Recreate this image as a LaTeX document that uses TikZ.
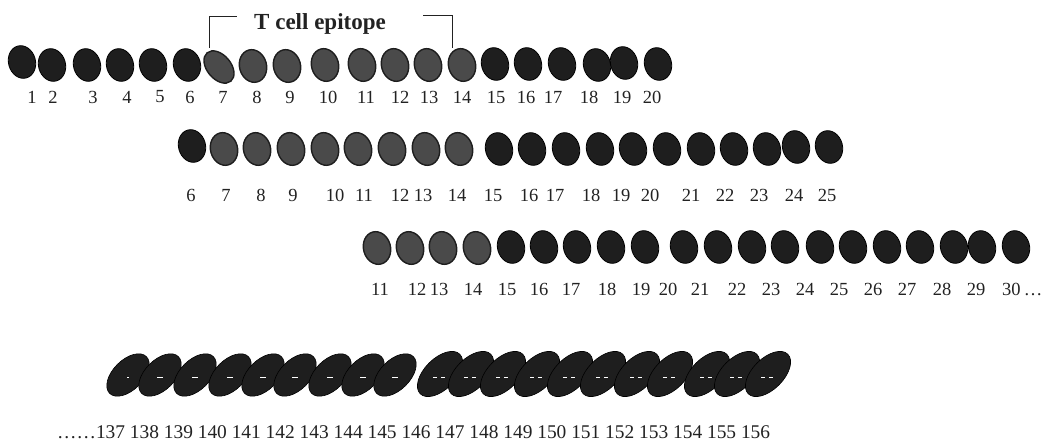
\documentclass[tikz,border=0pt]{standalone}
\usepackage{fontspec}
\setmainfont{Liberation Serif}
\usetikzlibrary{shapes.geometric}
\definecolor{beaddark}{HTML}{1E1E1E}
\definecolor{beadgray}{HTML}{4A4A4A}
\definecolor{inkgray}{HTML}{222222}
\tikzset{
  bead/.style={ellipse, inner sep=0pt, minimum width=27pt, minimum height=33pt,
    rotate=15, fill=beaddark, draw=black, line width=0.8pt},
  epibead/.style={bead, fill=beadgray, draw=beaddark, line width=1.4pt},
  num/.style={font=\fontsize{18.5}{20}\selectfont, inner sep=0pt, text=inkgray},
  coil/.style={ellipse, inner sep=0pt, minimum width=52pt, minimum height=30pt,
    rotate=45, fill=beaddark, draw=black, line width=0.6pt},
  bigcoil/.style={coil, minimum width=56pt, minimum height=31pt},
  glint/.style={white, line width=0.9pt},
  bracket/.style={line width=1pt, inkgray},
  title/.style={font=\fontsize{23}{25}\selectfont\bfseries, inner sep=0pt, text=inkgray},
}
\begin{document}
\begin{tikzpicture}[x=1pt, y=-1pt]
\useasboundingbox (0,0) rectangle (1050,443);

% ---- row 1: residues 1-20 ----
\foreach \n/\x/\y in {1/22/62, 2/52/65, 3/87/65, 4/120/65, 5/153/65, 6/187/65,
    15/495/64, 16/528/64, 17/562/64, 18/597/65, 19/624/63, 20/658/64}
  \node[bead] (a\n) at (\x,\y) {};
\node[epibead, rotate=25, minimum width=24pt, minimum height=37pt] (a7) at (219,67) {};
\foreach \n/\x/\y in {8/253/66, 9/287/66, 10/325/65, 11/362/65, 12/395/65, 13/428/65, 14/462/65}
  \node[epibead] (a\n) at (\x,\y) {};
\foreach \n/\x in {1/32, 2/53, 3/93, 4/127, 5/160, 6/190, 7/223, 8/257, 9/290, 10/328,
    11/366, 12/400, 13/429, 14/462, 15/496, 16/526, 17/553, 18/589, 19/622, 20/652}
  \node[num] (la\n) at (\x,97) {\n};

% epitope bracket and title
\node[title, anchor=base] (epi) at (320,30) {T cell epitope};
\coordinate (bl1) at (209,48);
\coordinate (bl2) at (209,17);
\coordinate (bl3) at (237,17);
\coordinate (br1) at (423,16);
\coordinate (br2) at (452,16);
\coordinate (br3) at (452,48);
\draw[bracket] (bl1) -- (bl2) -- (bl3);
\draw[bracket] (br1) -- (br2) -- (br3);

% ---- row 2: residues 6-25 ----
\node[bead] (b6) at (192,146) {};
\foreach \n/\x in {7/224, 8/257, 9/291, 10/325, 11/358, 12/392, 13/426, 14/459}
  \node[epibead] (b\n) at (\x,149) {};
\foreach \n/\x/\y in {15/499/149, 16/532/149, 17/566/149, 18/600/149, 19/633/149,
    20/667/149, 21/701/149, 22/734/149, 23/767/149, 24/796/147, 25/829/147}
  \node[bead] (b\n) at (\x,\y) {};
\foreach \n/\x in {6/191, 7/226, 8/261, 9/293, 10/335, 11/364, 12/400, 13/423, 14/457,
    15/493, 16/529, 17/555, 18/591, 19/621, 20/650, 21/691, 22/725, 23/759, 24/794, 25/827}
  \node[num] (lb\n) at (\x,195) {\n};

% ---- row 3: residues 11-30 ----
\foreach \n/\x in {11/377, 12/410, 13/443, 14/477}
  \node[epibead] (c\n) at (\x,248) {};
\foreach \n/\x in {15/511, 16/544, 17/577, 18/611, 19/645, 20/684, 21/718, 22/752,
    23/785, 24/820, 25/853, 26/887, 27/920, 28/954, 29/982, 30/1016}
  \node[bead] (c\n) at (\x,247) {};
\foreach \n/\x in {11/380, 12/417, 13/439, 14/473, 15/507, 16/539, 17/571, 18/607,
    19/641, 20/668, 21/700, 22/737, 23/771, 24/805, 25/839, 26/873, 27/907, 28/942, 29/976}
  \node[num] (lc\n) at (\x,289) {\n};
\node[num, anchor=west] (lc30) at (1002,289) {30\,…};

% ---- row 4: residues 137-156, packed as a helix ----
\foreach \n/\x in {137/128, 138/160, 139/195, 140/230, 141/263, 142/295, 143/330, 144/363, 145/395}
  \node[coil] (d\n) at (\x,375) {};
\foreach \n/\x in {146/440, 147/471, 148/503, 149/537, 150/570, 151/603, 152/637,
    153/670, 154/707, 155/737, 156/768}
  \node[bigcoil] (d\n) at (\x,374) {};
\draw[glint] ([xshift=-1pt,yshift=-2pt]d137.center) -- ([xshift=1pt,yshift=-2pt]d137.center);
\foreach \n in {138,...,145}
  \draw[glint] ([xshift=-3pt,yshift=-2pt]d\n.center) -- ([xshift=3pt,yshift=-2pt]d\n.center);
\foreach \n in {146,...,156} {
  \draw[glint] ([xshift=-7pt,yshift=-3pt]d\n.center) -- ([xshift=-3pt,yshift=-3pt]d\n.center);
  \draw[glint] ([xshift=1pt,yshift=-3pt]d\n.center) -- ([xshift=5pt,yshift=-3pt]d\n.center);
}
\node[num, font=\fontsize{19.4}{21}\selectfont, anchor=base west, text depth=0pt] (ld) at (57,439)
  {……137 138 139 140 141 142 143 144 145 146 147 148 149 150 151 152 153 154 155 156};
\end{tikzpicture}
\end{document}
